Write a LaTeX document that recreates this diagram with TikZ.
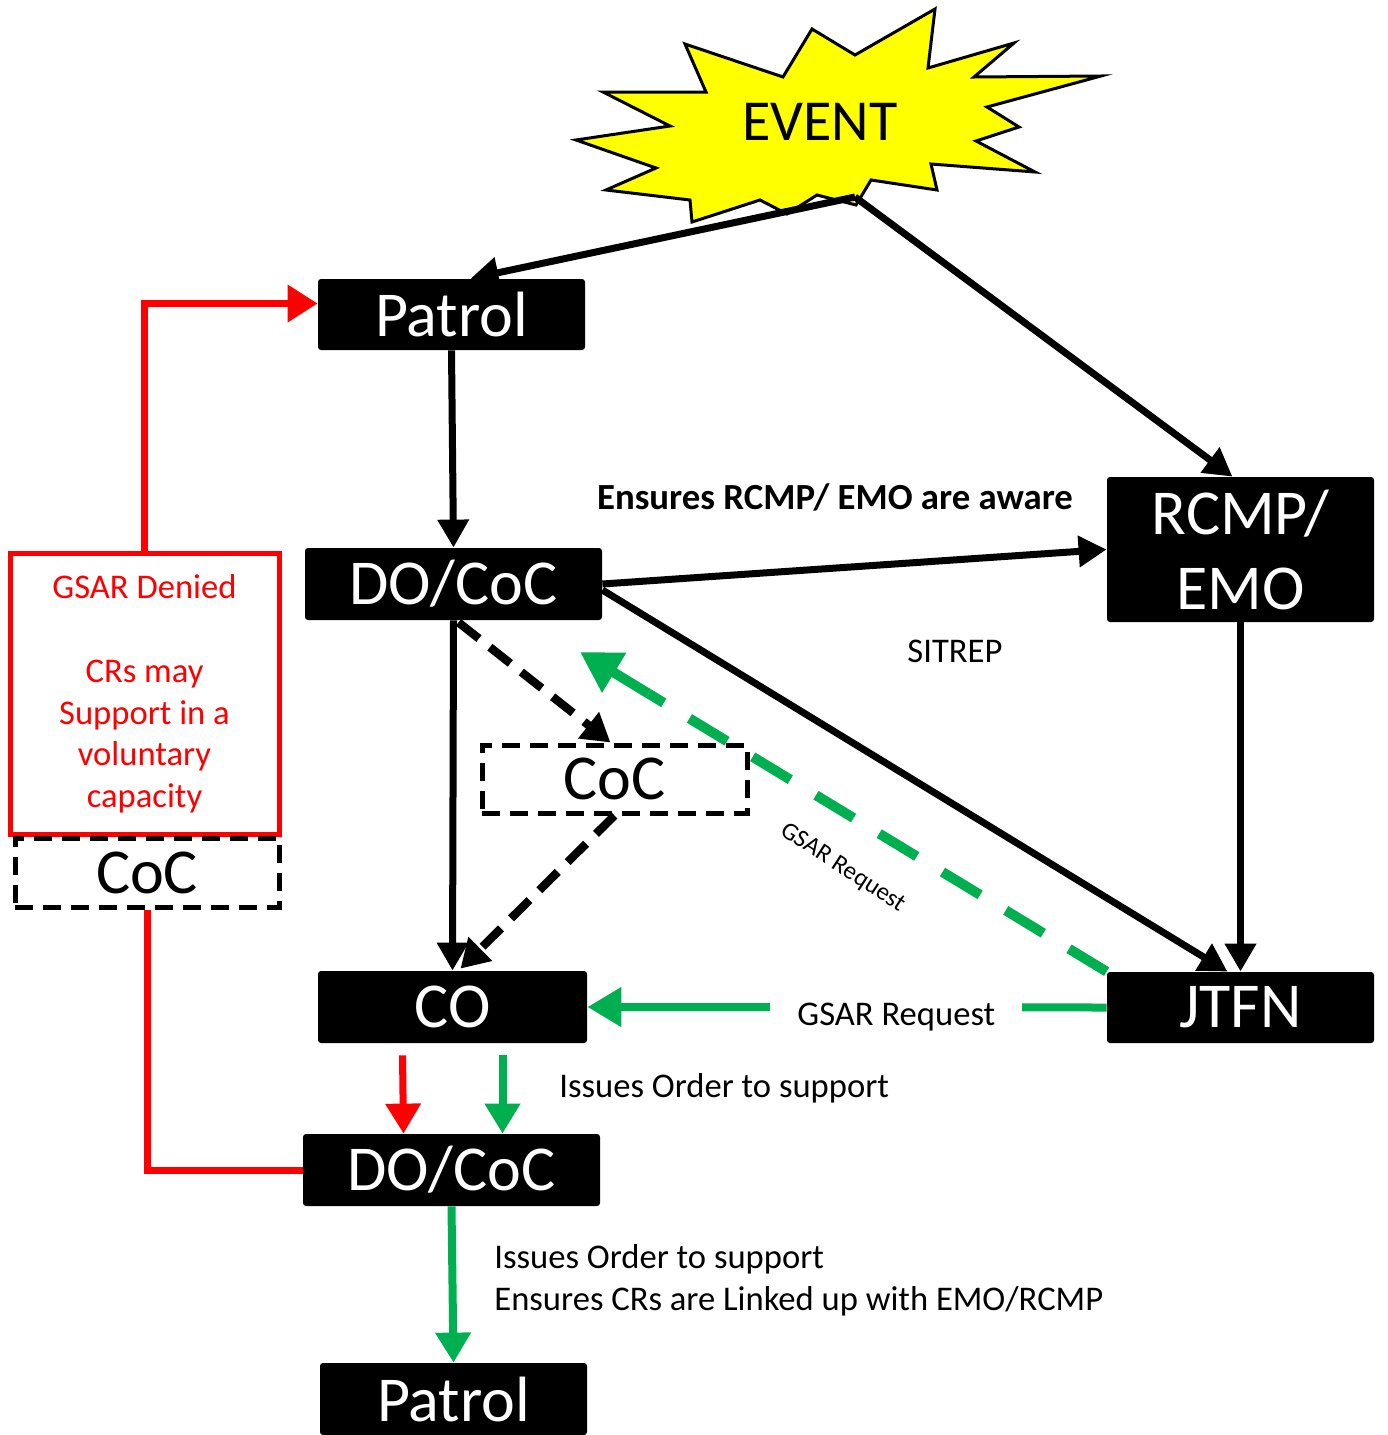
\documentclass[tikz,border=0pt]{standalone}
\usepackage{fontspec}
\setmainfont{Carlito}
\usetikzlibrary{arrows.meta,calc}
\definecolor{evyellow}{HTML}{FFFF00}
\definecolor{gsgreen}{HTML}{00B050}
\definecolor{gsred}{HTML}{FF0000}
\begin{document}
\begin{tikzpicture}[x=0.5pt,y=-0.5pt,
  bbox/.style={fill=black,text=white,inner sep=0pt,rounded corners=1.5pt,
    font=\fontsize{32}{37.5}\selectfont,align=center},
  dbox/.style={draw=black,line width=2.5pt,dash pattern=on 9pt off 5pt,inner sep=0pt,
    font=\fontsize{32}{37.5}\selectfont,text=black},
  lbl/.style={font=\fontsize{17.3}{21}\selectfont,inner sep=0pt},
  blk/.style={draw=black,line width=3.5pt,-{Triangle[length=14pt,width=15pt]}},
  blkd/.style={draw=black,line width=4.2pt,dash pattern=on 13pt off 7pt,-{Triangle[length=14pt,width=16pt]}},
  grn/.style={draw=gsgreen,line width=4pt,-{Triangle[length=15pt,width=17pt]}},
  grnd/.style={draw=gsgreen,line width=5pt,dash pattern=on 22pt off 15pt},
  rd/.style={draw=gsred,line width=3.5pt}
]
\useasboundingbox (0,0) rectangle (1387,1435);

% EVENT starburst
\draw[fill=evyellow,line width=1.5pt,line join=miter]
  (603,92) -- (706,92) -- (685,44) -- (783,77) -- (812,29) -- (855,55) -- (935,9)
  -- (928,68) -- (1014,43) -- (974,77) -- (1101,76) -- (987,107) -- (1019,127)
  -- (976,141) -- (1035,172) -- (931,164) -- (937,190) -- (871,180) -- (856,205)
  -- (817,195) -- (787,214) -- (760,200) -- (692,222) -- (690,200) -- (606,190)
  -- (656,168) -- (576,140) -- (670,126) -- cycle;
\node[font=\fontsize{29}{34}\selectfont,inner sep=0pt] (event) at (820,122) {EVENT};
\coordinate (evb) at (855,197);

% boxes
\node[bbox,minimum width=133.5pt,minimum height=35.5pt] (p1) at (451.5,314.5) {Patrol};
\node[bbox,minimum width=148.5pt,minimum height=36pt] (d1) at (453.5,584) {DO/CoC};
\node[bbox,minimum width=133.5pt,minimum height=72.5pt] (rcmp) at (1240.5,549.5) {RCMP/\\EMO};
\node[dbox,minimum width=132.5pt,minimum height=34pt] (cocm) at (614.5,779) {CoC};
\node[bbox,minimum width=134.5pt,minimum height=36pt] (co) at (452.5,1007) {CO};
\node[bbox,minimum width=133.5pt,minimum height=35.5pt] (jtfn) at (1240.5,1007.5) {JTFN};
\node[bbox,minimum width=148.5pt,minimum height=36pt] (d2) at (451.5,1170) {DO/CoC};
\node[bbox,minimum width=133.5pt,minimum height=36pt] (p2) at (453.5,1399) {Patrol};
\node[draw=gsred,line width=2.5pt,text=gsred,minimum width=134.5pt,minimum height=140.5pt,
  inner sep=0pt,align=center,font=\fontsize{17.3}{20.9}\selectfont] (rbox) at (144.5,694)
  {GSAR Denied\\\mbox{}\\CRs may\\Support in a\\voluntary\\capacity};
\node[dbox,minimum width=132pt,minimum height=34.5pt] (lcoc) at (147,872.5) {CoC};

% black connectors
\draw[blk] (evb) -- ($(p1.north)+(19,0)$);
\draw[blk] (evb) -- ($(rcmp.north)+(-8,0)$);
\draw[blk] (p1.south) -- (d1.north);
\draw[blk] (d1.east) -- (rcmp.west);
\draw[blk] ($(d1.east)+(0,6)$) -- ($(jtfn.north)+(-13,0)$);
\draw[blk] (rcmp.south) -- (jtfn.north);
\draw[blk] (d1.south) -- (co.north);
\draw[blkd] ($(d1.south)+(5,2)$) -- ($(cocm.north)+(-4,0)$);
\draw[blkd] ($(cocm.south)+(0,0)$) -- ($(co.north)+(8,-2)$);

% labels
\node[lbl,font=\bfseries\fontsize{18.4}{22}\selectfont] (lbaware) at (835,497) {Ensures RCMP/ EMO are aware};
\node[lbl] (lbsit) at (955,651) {SITREP};

% green connectors
\coordinate (gtip) at (580,652);
\coordinate (gneck) at ($(gtip)!40pt!(jtfn.north west)$);
\draw[grnd] (jtfn.north west) -- (gneck);
\draw[draw=gsgreen,line width=5pt,-{Triangle[length=20pt,width=22pt]}] (gneck) -- (gtip);
\node[inner sep=0pt,rotate=-33,font=\fontsize{12.5}{15}\selectfont] (lbgr) at (843,868) {GSAR Request};
\draw[draw=gsgreen,line width=4pt,-{Triangle[length=17pt,width=19pt]}] (jtfn.west) -- node[lbl,pos=0.405,fill=white,inner xsep=13.5pt,inner ysep=4pt,yshift=-5pt] (lbreq) {GSAR Request} (co.east);
\draw[grn] ($(co.south)+(50,12)$) -- ($(d2.north)+(51,0)$);
\draw[rd,-{Triangle[length=15pt,width=17pt]}] ($(co.south)+(-50,12)$) -- ($(d2.north)+(-48,0)$);
\node[lbl,anchor=west] (lbiss1) at (559,1088) {Issues Order to support};
\draw[grn] (d2.south) -- (p2.north);
\node[lbl,anchor=west,align=left,font=\fontsize{17.3}{21}\selectfont] (lbiss2) at (494,1280)
  {Issues Order to support\\Ensures CRs are Linked up with EMO/RCMP};

% red connectors
\draw[rd] (d2.west) -| (lcoc.south);
\draw[rd,-{Triangle[length=15pt,width=18pt]}] (rbox.north) |- ($(p1.west)+(0,-11)$);
\end{tikzpicture}
\end{document}
